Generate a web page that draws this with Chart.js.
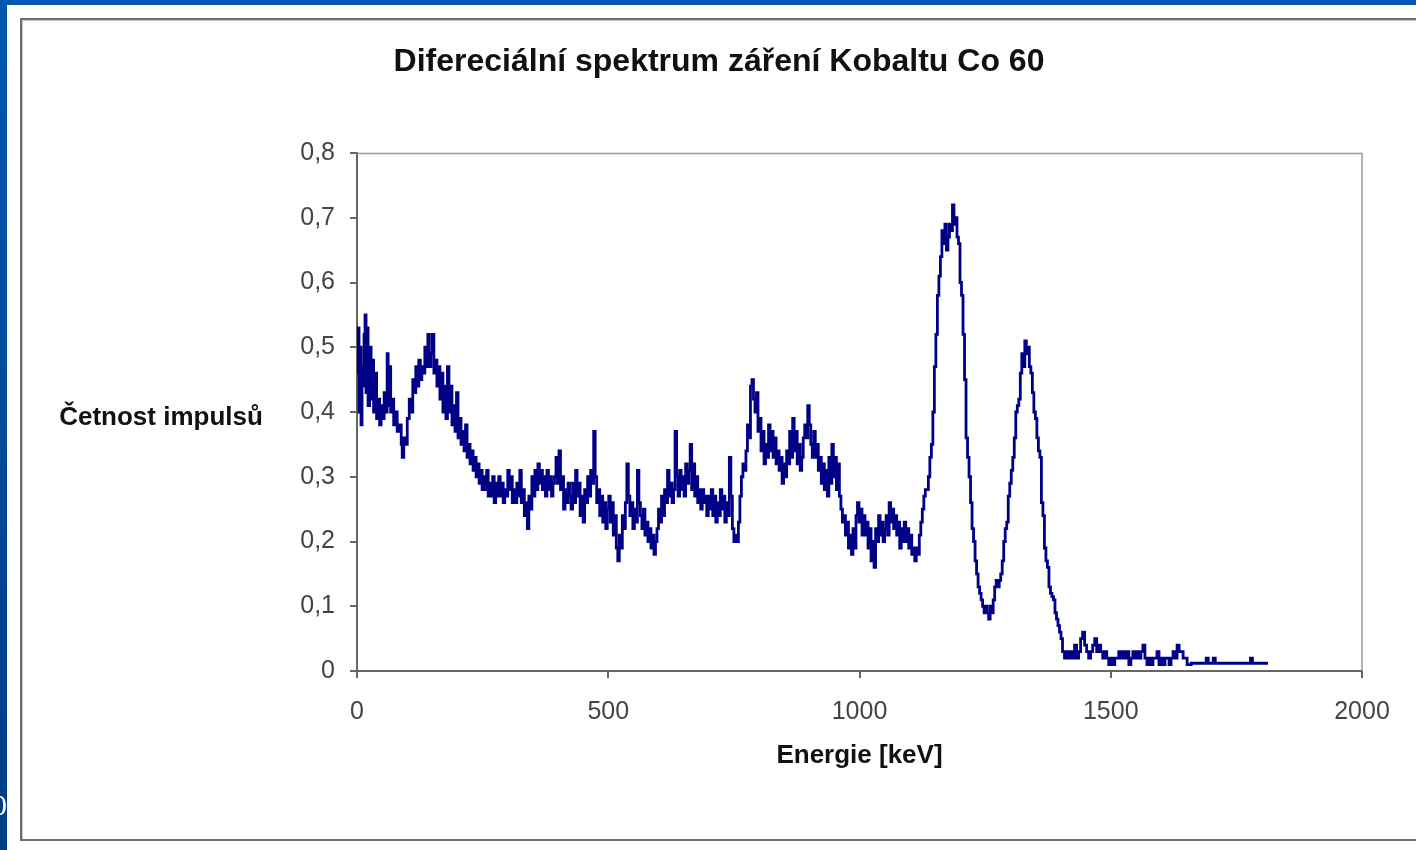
<!DOCTYPE html>
<html>
<head>
<meta charset="utf-8">
<script src="https://cdn.jsdelivr.net/npm/chart.js@4.4.1/dist/chart.umd.min.js"></script>
<style>
  html, body { margin: 0; padding: 0; overflow: hidden; background: #fff; }
  canvas { display: block; }
</style>
</head>
<body>
<canvas id="spektrum" width="1416" height="850"></canvas>
<script>
// channel energies [keV]
const energyKeV = [
  0, 2, 4, 6, 8, 10, 12, 14, 16, 18,
  20, 22, 25, 28, 30, 33, 36, 39, 42, 45,
  48, 51, 54, 57, 60, 62, 64, 67, 70, 73,
  76, 80, 84, 88, 90, 93, 96, 100, 104, 108,
  111, 114, 117, 120, 123, 126, 129, 132, 135, 138,
  141, 144, 147, 150, 153, 156, 159, 162, 165, 168,
  171, 174, 177, 180, 183, 186, 189, 192, 195, 198,
  201, 204, 207, 210, 213, 216, 219, 222, 225, 228,
  231, 234, 237, 240, 243, 246, 249, 252, 255, 258,
  261, 264, 267, 270, 273, 276, 279, 282, 285, 288,
  291, 294, 297, 300, 303, 306, 309, 312, 315, 318,
  321, 324, 327, 330, 333, 336, 339, 342, 345, 348,
  351, 354, 357, 360, 363, 366, 369, 372, 375, 378,
  381, 384, 387, 390, 393, 396, 399, 402, 405, 408,
  411, 414, 417, 420, 423, 426, 429, 432, 435, 438,
  441, 444, 447, 450, 453, 456, 459, 462, 465, 468,
  471, 474, 477, 480, 483, 486, 489, 492, 495, 498,
  501, 504, 507, 510, 513, 516, 519, 522, 525, 528,
  531, 534, 537, 540, 543, 546, 549, 552, 555, 558,
  561, 564, 567, 570, 573, 576, 579, 582, 585, 588,
  591, 594, 597, 600, 603, 606, 609, 612, 615, 618,
  621, 624, 627, 630, 633, 636, 639, 642, 645, 648,
  651, 654, 657, 660, 663, 666, 669, 672, 675, 678,
  681, 684, 687, 690, 693, 696, 699, 702, 705, 708,
  711, 714, 717, 720, 723, 726, 729, 732, 735, 738,
  741, 744, 747, 750, 753, 756, 759, 762, 765, 768,
  771, 774, 777, 780, 783, 786, 789, 792, 795, 798,
  801, 804, 807, 810, 813, 816, 819, 822, 825, 828,
  831, 834, 837, 840, 843, 846, 849, 852, 855, 858,
  861, 864, 867, 870, 873, 876, 879, 882, 885, 888,
  891, 894, 897, 900, 903, 906, 909, 912, 915, 918,
  921, 924, 927, 930, 933, 936, 939, 942, 945, 948,
  951, 954, 957, 960, 963, 966, 969, 972, 975, 978,
  981, 984, 987, 990, 993, 996, 999, 1002, 1005, 1008,
  1011, 1014, 1017, 1020, 1023, 1026, 1029, 1032, 1035, 1038,
  1041, 1044, 1047, 1050, 1053, 1056, 1059, 1062, 1065, 1068,
  1071, 1074, 1077, 1080, 1083, 1086, 1089, 1092, 1095, 1098,
  1101, 1104, 1107, 1110, 1113, 1116, 1119, 1122, 1125, 1128,
  1131, 1134, 1137, 1140, 1143, 1146, 1149, 1152, 1155, 1158,
  1161, 1164, 1167, 1170, 1173, 1176, 1179, 1182, 1185, 1188,
  1191, 1194, 1197, 1200, 1203, 1206, 1209, 1212, 1215, 1218,
  1221, 1224, 1227, 1230, 1233, 1236, 1239, 1242, 1245, 1248,
  1251, 1254, 1257, 1260, 1263, 1266, 1269, 1272, 1275, 1278,
  1281, 1284, 1287, 1290, 1293, 1296, 1299, 1302, 1305, 1308,
  1311, 1314, 1317, 1320, 1323, 1326, 1329, 1332, 1335, 1338,
  1341, 1344, 1347, 1350, 1353, 1356, 1359, 1362, 1365, 1368,
  1371, 1374, 1377, 1380, 1383, 1386, 1389, 1392, 1395, 1398,
  1401, 1404, 1408, 1412, 1416, 1420, 1424, 1428, 1432, 1436,
  1440, 1444, 1448, 1452, 1456, 1460, 1464, 1468, 1472, 1476,
  1480, 1484, 1488, 1492, 1496, 1500, 1504, 1508, 1512, 1516,
  1520, 1524, 1528, 1532, 1536, 1540, 1544, 1548, 1552, 1556,
  1560, 1564, 1568, 1572, 1576, 1580, 1584, 1588, 1592, 1596,
  1600, 1604, 1608, 1612, 1616, 1620, 1624, 1628, 1632, 1636,
  1640, 1644, 1648, 1652, 1660, 1680, 1690, 1694, 1704, 1708,
  1740, 1775, 1778, 1782, 1813
];

// četnost impulsů per channel
const pulseRate = [
  0.46, 0.53, 0.40, 0.50, 0.38, 0.47, 0.44, 0.52, 0.55, 0.43,
  0.53, 0.41, 0.50, 0.42, 0.48, 0.40, 0.46, 0.39, 0.42, 0.38,
  0.41, 0.39, 0.43, 0.40, 0.49, 0.41, 0.47, 0.40, 0.42, 0.38,
  0.40, 0.37, 0.38, 0.35, 0.33, 0.36, 0.35, 0.39, 0.42, 0.40,
  0.45, 0.43, 0.47, 0.44, 0.48, 0.45, 0.47, 0.46, 0.50, 0.47,
  0.52, 0.47, 0.49, 0.52, 0.46, 0.48, 0.44, 0.47, 0.42, 0.46,
  0.40, 0.44, 0.39, 0.47, 0.40, 0.44, 0.38, 0.41, 0.37, 0.43,
  0.36, 0.39, 0.35, 0.37, 0.34, 0.38, 0.33, 0.35, 0.32, 0.34,
  0.31, 0.33, 0.30, 0.32, 0.29, 0.31, 0.28, 0.30, 0.28, 0.31,
  0.27, 0.29, 0.27, 0.30, 0.26, 0.29, 0.27, 0.30, 0.27, 0.29,
  0.26, 0.28, 0.27, 0.31, 0.28, 0.30, 0.26, 0.28, 0.26, 0.29,
  0.27, 0.31, 0.26, 0.28, 0.24, 0.26, 0.22, 0.27, 0.25, 0.30,
  0.27, 0.31, 0.28, 0.32, 0.29, 0.31, 0.28, 0.30, 0.27, 0.31,
  0.28, 0.30, 0.27, 0.29, 0.30, 0.33, 0.29, 0.34, 0.28, 0.30,
  0.25, 0.28, 0.26, 0.29, 0.27, 0.25, 0.29, 0.26, 0.31, 0.27,
  0.29, 0.24, 0.27, 0.23, 0.28, 0.26, 0.30, 0.27, 0.31, 0.29,
  0.37, 0.30, 0.26, 0.28, 0.24, 0.27, 0.23, 0.26, 0.22, 0.25,
  0.27, 0.23, 0.26, 0.21, 0.24, 0.19, 0.17, 0.21, 0.19, 0.24,
  0.22, 0.26, 0.32, 0.27, 0.24, 0.26, 0.22, 0.25, 0.23, 0.31,
  0.26, 0.24, 0.22, 0.25, 0.21, 0.23, 0.20, 0.22, 0.19, 0.21,
  0.18, 0.20, 0.22, 0.25, 0.23, 0.27, 0.24, 0.28, 0.26, 0.31,
  0.27, 0.29, 0.26, 0.28, 0.37, 0.30, 0.27, 0.31, 0.28, 0.30,
  0.27, 0.32, 0.29, 0.31, 0.35, 0.28, 0.32, 0.27, 0.30, 0.26,
  0.28, 0.25, 0.28, 0.26, 0.27, 0.24, 0.27, 0.25, 0.28, 0.24,
  0.27, 0.23, 0.26, 0.24, 0.28, 0.25, 0.27, 0.23, 0.26, 0.24,
  0.33, 0.27, 0.22, 0.20, 0.21, 0.20, 0.23, 0.27, 0.30, 0.32,
  0.31, 0.34, 0.38, 0.36, 0.44, 0.45, 0.42, 0.40, 0.43, 0.37,
  0.39, 0.34, 0.37, 0.32, 0.35, 0.33, 0.38, 0.34, 0.37, 0.33,
  0.36, 0.32, 0.34, 0.31, 0.33, 0.29, 0.32, 0.30, 0.34, 0.32,
  0.37, 0.33, 0.39, 0.34, 0.37, 0.32, 0.35, 0.31, 0.33, 0.36,
  0.38, 0.36, 0.41, 0.38, 0.35, 0.33, 0.37, 0.33, 0.35, 0.31,
  0.33, 0.29, 0.32, 0.28, 0.31, 0.27, 0.33, 0.29, 0.35, 0.30,
  0.33, 0.28, 0.32, 0.27, 0.25, 0.23, 0.24, 0.21, 0.23, 0.19,
  0.21, 0.18, 0.22, 0.19, 0.24, 0.26, 0.23, 0.25, 0.21, 0.24,
  0.21, 0.23, 0.19, 0.22, 0.17, 0.20, 0.16, 0.22, 0.20, 0.24,
  0.21, 0.23, 0.20, 0.22, 0.24, 0.21, 0.26, 0.23, 0.25, 0.22,
  0.24, 0.21, 0.23, 0.19, 0.22, 0.20, 0.23, 0.20, 0.22, 0.19,
  0.21, 0.18, 0.19, 0.17, 0.19, 0.18, 0.21, 0.23, 0.25, 0.27,
  0.28, 0.28, 0.30, 0.33, 0.35, 0.40, 0.47, 0.52, 0.58, 0.61,
  0.64, 0.68, 0.66, 0.69, 0.65, 0.67, 0.69, 0.68, 0.72, 0.69,
  0.70, 0.67, 0.66, 0.60, 0.58, 0.52, 0.45, 0.36, 0.33, 0.30,
  0.26, 0.22, 0.20, 0.17, 0.15, 0.13, 0.12, 0.11, 0.10, 0.09,
  0.10, 0.09, 0.08, 0.10, 0.09, 0.11, 0.13, 0.14, 0.13, 0.14,
  0.15, 0.17, 0.20, 0.22, 0.23, 0.27, 0.29, 0.31, 0.33, 0.36,
  0.40, 0.41, 0.42, 0.46, 0.49, 0.47, 0.51, 0.49, 0.50, 0.47,
  0.46, 0.43, 0.40, 0.39, 0.36, 0.34, 0.33, 0.26, 0.24, 0.19,
  0.17, 0.16, 0.13, 0.12, 0.115, 0.11, 0.09, 0.08, 0.07, 0.06,
  0.05, 0.03, 0.02, 0.03, 0.02, 0.03, 0.02, 0.04, 0.02, 0.03,
  0.05, 0.06, 0.04, 0.03, 0.02, 0.03, 0.04, 0.05, 0.03, 0.04,
  0.03, 0.02, 0.03, 0.02, 0.01, 0.02, 0.01, 0.02, 0.02, 0.03,
  0.02, 0.03, 0.02, 0.03, 0.01, 0.02, 0.03, 0.02, 0.03, 0.02,
  0.03, 0.04, 0.02, 0.01, 0.02, 0.01, 0.02, 0.02, 0.03, 0.01,
  0.02, 0.01, 0.02, 0.02, 0.01, 0.02, 0.03, 0.02, 0.04, 0.03,
  0.03, 0.02, 0.02, 0.01, 0.012, 0.012, 0.02, 0.012, 0.02, 0.012,
  0.012, 0.012, 0.02, 0.012, 0.012
];

const yTickLabels = ['0', '0,1', '0,2', '0,3', '0,4', '0,5', '0,6', '0,7', '0,8'];
const xTickLabels = ['0', '500', '1000', '1500', '2000'];

const chartTitle = 'Difereciální spektrum záření Kobaltu Co 60';
const xTitle = 'Energie [keV]';
const yTitle = 'Četnost impulsů';

const FONT = "'Liberation Sans', Arial, sans-serif";

// slide background, chart frame, plot frame and the horizontal titles
const framePlugin = {
  id: 'frame',
  beforeDraw(chart) {
    const ctx = chart.ctx;
    ctx.save();
    ctx.fillStyle = '#ffffff';
    ctx.fillRect(0, 0, 1416, 850);
    // blue slide edges
    ctx.fillStyle = '#0057b0';
    ctx.fillRect(0, 0, 1416, 5);
    let g = ctx.createLinearGradient(0, 0, 0, 850);
    g.addColorStop(0, '#0057b0');
    g.addColorStop(1, '#003d84');
    ctx.fillStyle = g;
    ctx.fillRect(0, 0, 7, 850);
    ctx.fillStyle = '#ffffff';
    ctx.font = "30px 'Liberation Serif', serif";
    ctx.textBaseline = 'middle';
    ctx.fillText('0', -8, 807);
    // chart frame
    ctx.fillStyle = '#c8c8c8';
    ctx.fillRect(22, 20, 1400, 1);
    ctx.fillRect(22, 20, 1, 820);
    ctx.fillStyle = '#6e6e6e';
    ctx.fillRect(20, 18, 1400, 2);
    ctx.fillRect(20, 18, 2, 823);
    ctx.fillRect(20, 839, 1400, 2);
    ctx.restore();
  },
  beforeDatasetsDraw(chart) {
    const a = chart.chartArea;
    const ctx = chart.ctx;
    ctx.save();
    ctx.strokeStyle = '#999';
    ctx.lineWidth = 1.5;
    ctx.beginPath();
    ctx.moveTo(a.left, a.top + 0.5);
    ctx.lineTo(a.right, a.top + 0.5);
    ctx.lineTo(a.right, a.bottom);
    ctx.stroke();
    ctx.restore();
  },
  afterDraw(chart) {
    const ctx = chart.ctx;
    ctx.save();
    ctx.fillStyle = '#111';
    ctx.textAlign = 'center';
    ctx.textBaseline = 'middle';
    ctx.font = 'bold 32px ' + FONT;
    ctx.fillText(chartTitle, 719, 62);
    ctx.font = 'bold 26px ' + FONT;
    ctx.fillText(yTitle, 161, 418);
    ctx.restore();
  }
};

const points = energyKeV.map((e, i) => ({ x: e, y: pulseRate[i] }));

new Chart(document.getElementById('spektrum'), {
  type: 'line',
  data: {
    datasets: [{
      label: yTitle,
      data: points,
      borderColor: '#000086',
      borderWidth: 2.8,
      pointRadius: 0,
      stepped: true,
      fill: false
    }]
  },
  options: {
    responsive: false,
    animation: false,
    devicePixelRatio: 1,
    layout: { padding: { left: 277, top: 153, right: 54, bottom: 69 } },
    plugins: {
      legend: { display: false },
      title: { display: false },
      tooltip: { enabled: false }
    },
    scales: {
      x: {
        type: 'linear',
        min: 0,
        max: 2000,
        afterFit: s => { s.height = 110; },
        ticks: {
          stepSize: 500,
          padding: 19,
          color: '#444',
          font: { family: FONT, size: 25 },
          callback: (v, i) => xTickLabels[i]
        },
        grid: { drawOnChartArea: false, drawTicks: true, tickLength: 7, color: '#666', lineWidth: 2 },
        border: { color: '#666', width: 2 },
        title: {
          display: true,
          text: xTitle,
          color: '#111',
          font: { family: FONT, size: 26, weight: 'bold' },
          padding: 10
        }
      },
      y: {
        min: 0,
        max: 0.8,
        afterFit: s => { s.width = 80; },
        ticks: {
          stepSize: 0.1,
          padding: 15,
          color: '#444',
          font: { family: FONT, size: 25 },
          callback: (v, i) => yTickLabels[i]
        },
        grid: { drawOnChartArea: false, drawTicks: true, tickLength: 7, color: '#666', lineWidth: 2 },
        border: { color: '#666', width: 2 }
      }
    }
  },
  plugins: [framePlugin]
});
</script>
</body>
</html>
